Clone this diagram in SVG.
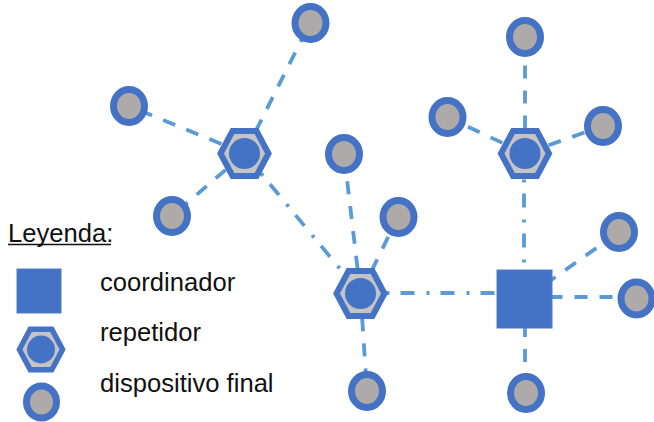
<svg xmlns="http://www.w3.org/2000/svg" width="654" height="422" viewBox="0 0 654 422">
<style>
.dev{fill:#AEAAAA;stroke:#4472C4;stroke-width:7}
.hex{fill:#C4C4C4;stroke:#4472C4;stroke-width:6;stroke-linejoin:miter}
.hc{fill:#4472C4}
.coord{fill:#4472C4;stroke:#4F7FCC;stroke-width:1}
.dash{stroke:#5B9BD5;stroke-width:3.8;fill:none;stroke-dasharray:13 12}
.dd{stroke:#5B9BD5;stroke-width:3.8;fill:none;stroke-dasharray:14 12 3 11}
.t{font-family:"Liberation Sans",Arial,sans-serif;font-size:25.6px;fill:#111}
</style>
<rect width="654" height="422" fill="#fff"/>
<g id="connectors">
<line class="dash" x1="244.5" y1="153.5" x2="129" y2="106"/>
<line class="dash" x1="244.5" y1="153.5" x2="172" y2="216"/>
<line class="dash" x1="244.5" y1="153.5" x2="310" y2="23"/>
<line class="dd" x1="244.5" y1="153.5" x2="360.5" y2="293.5"/>
<line class="dash" x1="360.5" y1="293.5" x2="344" y2="154"/>
<line class="dash" x1="360.5" y1="293.5" x2="398" y2="217"/>
<line class="dash" x1="360.5" y1="293.5" x2="367" y2="391"/>
<line class="dd" x1="360.5" y1="293" x2="524" y2="293"/>
<line class="dash" x1="525" y1="153.5" x2="525" y2="37"/>
<line class="dash" x1="525" y1="153.5" x2="447" y2="117"/>
<line class="dash" x1="525" y1="153.5" x2="603" y2="126"/>
<line class="dd" x1="524" y1="153.5" x2="524" y2="299"/>
<line class="dash" x1="524.5" y1="299" x2="619" y2="232"/>
<line class="dash" x1="524.5" y1="297" x2="636" y2="297"/>
<line class="dash" x1="525" y1="299" x2="525" y2="393"/>
</g>
<g id="rep1" transform="translate(244.5,153.5)"><polygon class="hex" points="-24,0 -12,-22.5 12,-22.5 24,0 12,22.5 -12,22.5"/><circle class="hc" r="15.5"/></g>
<g id="rep2" transform="translate(360.5,293.5)"><polygon class="hex" points="-24,0 -12,-22.5 12,-22.5 24,0 12,22.5 -12,22.5"/><circle class="hc" r="15.5"/></g>
<g id="rep3" transform="translate(525,153.5)"><polygon class="hex" points="-24,0 -12,-22.5 12,-22.5 24,0 12,22.5 -12,22.5"/><circle class="hc" r="15.5"/></g>
<g id="coord"><rect class="coord" x="497" y="270" width="55" height="58"/></g>
<g id="dev1"><ellipse class="dev" cx="129" cy="106" rx="15.5" ry="16.5"/></g>
<g id="dev2"><ellipse class="dev" cx="172" cy="216" rx="15.5" ry="16.5"/></g>
<g id="dev3"><ellipse class="dev" cx="310.5" cy="23" rx="15.5" ry="16.5"/></g>
<g id="dev4"><ellipse class="dev" cx="344" cy="154" rx="15.5" ry="16.5"/></g>
<g id="dev5"><ellipse class="dev" cx="398.5" cy="217" rx="15.5" ry="16.5"/></g>
<g id="dev6"><ellipse class="dev" cx="367" cy="391" rx="15.5" ry="16.5"/></g>
<g id="dev7"><ellipse class="dev" cx="525" cy="37" rx="15.5" ry="16.5"/></g>
<g id="dev8"><ellipse class="dev" cx="447.5" cy="117" rx="15.5" ry="16.5"/></g>
<g id="dev9"><ellipse class="dev" cx="603" cy="126" rx="15.5" ry="16.5"/></g>
<g id="dev10"><ellipse class="dev" cx="619" cy="232" rx="15.5" ry="16.5"/></g>
<g id="dev11"><ellipse class="dev" cx="636.5" cy="298.5" rx="15.5" ry="16.5"/></g>
<g id="dev12"><ellipse class="dev" cx="526" cy="393" rx="15.5" ry="16.5"/></g>
<g id="legend">
<text class="t" x="8" y="241.5">Leyenda:</text>
<line x1="8" y1="244.5" x2="111" y2="244.5" stroke="#111" stroke-width="1.3"/>
<rect class="coord" x="17" y="269" width="44" height="44"/>
<text class="t" x="100" y="291">coordinador</text>
<g transform="translate(41,349.5) scale(0.9)"><polygon class="hex" points="-24,0 -12,-22.5 12,-22.5 24,0 12,22.5 -12,22.5"/><circle class="hc" r="15.5"/></g>
<text class="t" x="100" y="341">repetidor</text>
<ellipse class="dev" cx="41.5" cy="402" rx="15" ry="16"/>
<text class="t" x="100" y="391.5">dispositivo final</text>
</g>
</svg>
